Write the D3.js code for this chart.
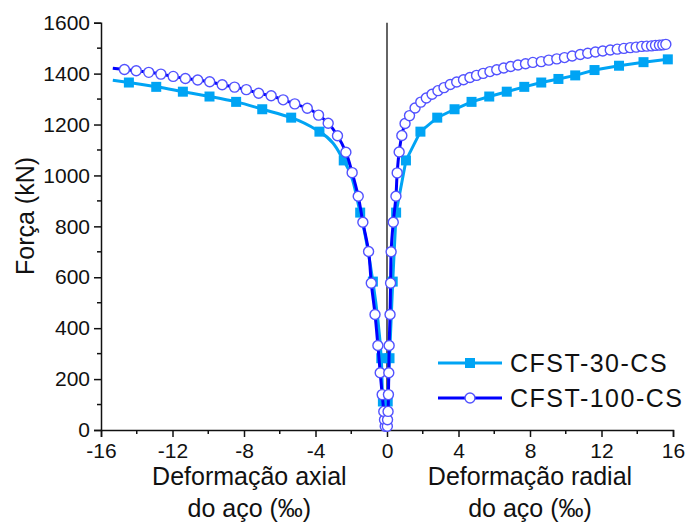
<!DOCTYPE html>
<html>
<head>
<meta charset="utf-8">
<script src="https://cdn.jsdelivr.net/npm/d3@7/dist/d3.min.js"></script>
<style>
  html, body { margin: 0; padding: 0; background: #fff; }
  svg { display: block; font-family: "Liberation Sans", Arial, sans-serif; }
</style>
</head>
<body>
<svg id="chart" width="688" height="523"></svg>
<script>
// ---- data: steel strain (‰) vs. applied force (kN) ----
const seriesNames = ["CFST-30-CS", "CFST-100-CS"];

// CFST-30-CS: load steps shared by both gauges
const forces30 = [112, 282, 583, 854, 1059, 1172, 1227, 1260, 1289, 1310, 1329, 1348, 1365,
                  1379, 1393, 1414, 1431, 1445, 1456];
const axial30 = [-0.23, -0.32, -0.79, -1.50, -2.42, -3.78, -5.36, -6.98, -8.44, -9.93, -11.42,
                 -12.91, -14.44];
const radial30 = [0.04, 0.14, 0.32, 0.51, 1.06, 1.87, 2.81, 3.78, 4.73, 5.72, 6.70, 7.68, 8.63,
                  9.59, 10.53, 11.61, 12.98, 14.35, 15.71];
const axialLast30 = [-15.34, 1374];   // final axial reading (line only, no symbol)

// CFST-100-CS axial gauge
const axial100 = [-0.10, -0.14, -0.18, -0.27, -0.38, -0.51, -0.67, -0.88, -1.03, -1.35, -1.61,
                  -1.95, -2.30, -2.77, -3.29, -3.83, -4.46, -5.16, -5.81, -6.48, -7.18, -7.87,
                  -8.53, -9.22, -9.92, -10.59, -11.28, -11.96, -12.65, -13.33, -14.03, -14.69];
const axialForces100 = [15, 40, 73, 139, 225, 332, 454, 577, 701, 816, 918, 1011, 1091, 1156,
                        1205, 1237, 1264, 1281, 1297, 1313, 1323, 1337, 1347, 1356, 1368, 1375,
                        1381, 1389, 1398, 1405, 1411, 1416];
const axialLast100 = [-15.34, 1421];

// CFST-100-CS radial gauge
const radial100 = [0.02, 0.03, 0.06, 0.08, 0.10, 0.12, 0.17, 0.20, 0.23, 0.35, 0.50, 0.57, 0.68,
                   0.83, 1.01, 1.26, 1.57, 1.89, 2.20, 2.52, 2.85, 3.19, 3.54, 3.90, 4.28, 4.64,
                   5.01, 5.38, 5.76, 6.14, 6.53, 6.92, 7.33, 7.75, 8.16, 8.63, 9.05, 9.50, 9.93,
                   10.36, 10.81, 11.23, 11.66, 12.07, 12.49, 12.88, 13.25, 13.61, 13.94, 14.25,
                   14.53, 14.80, 15.02, 15.24, 15.43, 15.60];
const radialForces100 = [15, 40, 73, 139, 225, 332, 454, 577, 700, 816, 918, 1010, 1092, 1157,
                         1204, 1235, 1265, 1288, 1304, 1319, 1333, 1345, 1357, 1367, 1376, 1385,
                         1393, 1401, 1408, 1415, 1422, 1428, 1434, 1439, 1444, 1447, 1453, 1458,
                         1463, 1469, 1475, 1480, 1485, 1489, 1493, 1496, 1499, 1502, 1504, 1507,
                         1508, 1509, 1511, 1512, 1513, 1515];

const xTicks = [-16, -12, -8, -4, 0, 4, 8, 12, 16];
const yTicks = [0, 200, 400, 600, 800, 1000, 1200, 1400, 1600];

// ---- layout ----
const svg = d3.select("#chart");
const margin = { left: 101, right: 15, top: 22.7, bottom: 93 };
const W = 688, H = 523;
const x = d3.scaleLinear().domain([-16, 16]).range([margin.left, W - margin.right]);
const y = d3.scaleLinear().domain([0, 1600]).range([H - margin.bottom, margin.top]);

const c30 = "#00a4f4";
const c100 = "#0000ff";
const c100mk = "#5252ff";

// axes (plain hyphen for negative labels)
const fmt = d => String(d);
const yAxis = d3.axisLeft(y).tickValues(yTicks).tickSize(7).tickPadding(4).tickFormat(fmt);
const xAxis = d3.axisBottom(x).tickValues(xTicks).tickSize(7).tickPadding(4).tickFormat(fmt);

const gy = svg.append("g").attr("transform", `translate(${margin.left},0)`).call(yAxis);
const gx = svg.append("g").attr("transform", `translate(0,${y(0)})`).call(xAxis);
[gx, gy].forEach(g => {
  g.select(".domain").attr("stroke", "#111").attr("stroke-width", 1.5);
  g.selectAll(".tick line").attr("stroke", "#111").attr("stroke-width", 1.5);
  g.selectAll(".tick text").attr("fill", "#111").style("font-size", "21px")
    .style("font-family", "'Liberation Sans', Arial, sans-serif");
});
gx.selectAll(".tick text").attr("dy", "0.8em");

// minor ticks
svg.append("g").selectAll("line")
  .data(d3.range(-14, 16, 4))
  .join("line")
  .attr("x1", d => x(d)).attr("x2", d => x(d))
  .attr("y1", y(0)).attr("y2", y(0) + 4)
  .attr("stroke", "#111").attr("stroke-width", 1.5);
svg.append("g").selectAll("line")
  .data(d3.range(100, 1600, 200))
  .join("line")
  .attr("x1", margin.left - 4).attr("x2", margin.left)
  .attr("y1", d => y(d)).attr("y2", d => y(d))
  .attr("stroke", "#111").attr("stroke-width", 1.5);

// zero-strain reference line
svg.append("line")
  .attr("x1", x(0)).attr("x2", x(0))
  .attr("y1", y(1600)).attr("y2", y(0))
  .attr("stroke", "#111").attr("stroke-width", 1.3);

// ---- build point lists ----
const zip = (xs, ys) => xs.map((v, i) => [v, ys[i]]);
const axialPts30 = zip(axial30, forces30);
const radialPts30 = zip(radial30, forces30);
const axialPts100 = zip(axial100, axialForces100);
const radialPts100 = zip(radial100, radialForces100);

const line = d3.line().x(d => x(d[0])).y(d => y(d[1]));
const lineSmooth = d3.line().x(d => x(d[0])).y(d => y(d[1])).curve(d3.curveMonotoneY);

// CFST-30-CS
const g30 = svg.append("g");
g30.append("path").datum([[0, 0], ...axialPts30, axialLast30])
  .attr("d", lineSmooth).attr("fill", "none").attr("stroke", c30).attr("stroke-width", 3);
g30.append("path").datum([[0, 0], ...radialPts30])
  .attr("d", line).attr("fill", "none").attr("stroke", c30).attr("stroke-width", 3);
const sq = 10;
g30.selectAll("rect").data([...axialPts30, ...radialPts30]).join("rect")
  .attr("x", d => x(d[0]) - sq / 2).attr("y", d => y(d[1]) - sq / 2)
  .attr("width", sq).attr("height", sq).attr("fill", c30);

// CFST-100-CS
const g100 = svg.append("g");
g100.append("path").datum([...axialPts100, axialLast100])
  .attr("d", lineSmooth).attr("fill", "none").attr("stroke", c100).attr("stroke-width", 3);
g100.append("path").datum(radialPts100)
  .attr("d", lineSmooth).attr("fill", "none").attr("stroke", c100).attr("stroke-width", 3);
g100.selectAll("circle").data([...axialPts100, ...radialPts100]).join("circle")
  .attr("cx", d => x(d[0])).attr("cy", d => y(d[1])).attr("r", 5)
  .attr("fill", "#fff").attr("stroke", c100mk).attr("stroke-width", 1.4);

// ---- axis titles ----
svg.append("text")
  .attr("transform", `translate(34,216) rotate(-90)`)
  .attr("text-anchor", "middle")
  .style("font-size", "25px").attr("fill", "#111")
  .text("Força (kN)");

const titleLines = [
  { cx: x(-7.7), lines: ["Deformação axial", "do aço (‰)"] },
  { cx: x(8.0), lines: ["Deformação radial", "do aço (‰)"] }
];
titleLines.forEach(t => {
  t.lines.forEach((s, i) => {
    svg.append("text")
      .attr("x", t.cx).attr("y", 485 + i * 31.5)
      .attr("text-anchor", "middle")
      .style("font-size", "25px").attr("fill", "#111")
      .text(s);
  });
});

// ---- legend ----
const legend = svg.append("g");
const legRows = [
  { name: seriesNames[0], color: c30, y: 363, mark: "square" },
  { name: seriesNames[1], color: c100, y: 398, mark: "circle" }
];
legRows.forEach(r => {
  legend.append("line").attr("x1", 438).attr("x2", 502).attr("y1", r.y).attr("y2", r.y)
    .attr("stroke", r.color).attr("stroke-width", 3);
  if (r.mark === "square") {
    legend.append("rect").attr("x", 470 - sq / 2).attr("y", r.y - sq / 2)
      .attr("width", sq).attr("height", sq).attr("fill", c30);
  } else {
    legend.append("circle").attr("cx", 470).attr("cy", r.y).attr("r", 5)
      .attr("fill", "#fff").attr("stroke", c100mk).attr("stroke-width", 1.4);
  }
  legend.append("text").attr("x", 510).attr("y", r.y).attr("dy", "0.36em")
    .style("font-size", "25px").style("letter-spacing", "1.5px")
    .attr("fill", "#111").text(r.name);
});
</script>
</body>
</html>
